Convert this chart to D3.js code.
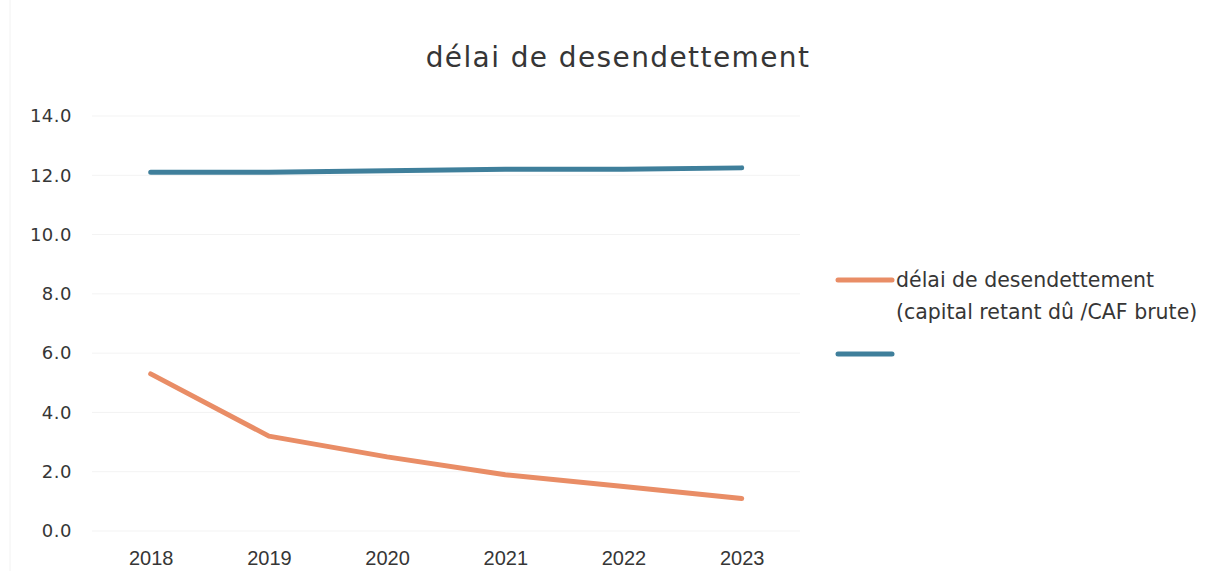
<!DOCTYPE html>
<html>
<head>
<meta charset="utf-8">
<script src="https://cdn.jsdelivr.net/npm/d3@7"></script>
<style>
  html, body { margin: 0; padding: 0; background: #fff; }
  svg { display: block; }
</style>
</head>
<body>
<svg id="chart" width="1220" height="571"></svg>
<script>
// Debt payback period (years) by fiscal year
const years = ["2018", "2019", "2020", "2021", "2022", "2023"];
const delaiValues = [5.3, 3.2, 2.5, 1.9, 1.5, 1.1];
const seuilValues = [12.1, 12.1, 12.15, 12.2, 12.2, 12.25];
const yTicks = [0, 2, 4, 6, 8, 10, 12, 14];
const titleText = "délai de desendettement";
const legendLines = ["délai de desendettement", "(capital retant dû /CAF brute)"];

const svg = d3.select("#chart");
const textColor = "#363636";
const orange = "#E98D66";
const blue = "#3F7F9B";

const plotTop = 116;
const plotBottom = 531;

const x = d3.scalePoint()
  .domain(years)
  .range([150.7, 741.7]);

const y = d3.scaleLinear()
  .domain([0, 14])
  .range([plotBottom, plotTop]);

// faint frame edge on the left
svg.append("line")
  .attr("x1", 10).attr("x2", 10).attr("y1", 0).attr("y2", 571)
  .attr("stroke", "#f2f2f2").attr("stroke-width", 1);

// horizontal gridlines
svg.append("g")
  .selectAll("line")
  .data(yTicks)
  .join("line")
  .attr("x1", 92).attr("x2", 800)
  .attr("y1", d => y(d)).attr("y2", d => y(d))
  .attr("stroke", "#f3f3f3")
  .attr("stroke-width", 1);

// y axis labels
const yAxis = d3.axisLeft(y)
  .tickValues(yTicks)
  .tickFormat(d3.format(".1f"))
  .tickSize(0)
  .tickPadding(0);
const gy = svg.append("g")
  .attr("transform", "translate(72,0)")
  .call(yAxis);
gy.select(".domain").remove();
gy.selectAll("text")
  .attr("fill", textColor)
  .attr("font-family", "DejaVu Sans, sans-serif")
  .attr("font-size", 18)
  .attr("letter-spacing", "0.5px");

// x axis labels
const xAxis = d3.axisBottom(x).tickSize(0).tickPadding(0);
const gx = svg.append("g")
  .attr("transform", "translate(0,551)")
  .call(xAxis);
gx.select(".domain").remove();
gx.selectAll("text")
  .attr("fill", textColor)
  .attr("font-family", "Liberation Sans, Arial, sans-serif")
  .attr("font-size", 20)
  .attr("dy", "0.71em");

// series lines
const line = d3.line()
  .x((d, i) => x(years[i]))
  .y(d => y(d));

svg.append("path")
  .datum(seuilValues)
  .attr("d", line)
  .attr("fill", "none")
  .attr("stroke", blue)
  .attr("stroke-width", 5)
  .attr("stroke-linecap", "round")
  .attr("stroke-linejoin", "round");

svg.append("path")
  .datum(delaiValues)
  .attr("d", line)
  .attr("fill", "none")
  .attr("stroke", orange)
  .attr("stroke-width", 5)
  .attr("stroke-linecap", "round")
  .attr("stroke-linejoin", "round");

// title
svg.append("text")
  .attr("x", 618)
  .attr("y", 67)
  .attr("text-anchor", "middle")
  .attr("fill", textColor)
  .attr("font-family", "DejaVu Sans, sans-serif")
  .attr("font-size", 28)
  .attr("letter-spacing", "1.4px")
  .text(titleText);

// legend
const legend = svg.append("g");
legend.append("line")
  .attr("x1", 838).attr("x2", 892)
  .attr("y1", 280).attr("y2", 280)
  .attr("stroke", orange).attr("stroke-width", 5)
  .attr("stroke-linecap", "round");
legend.append("text")
  .attr("fill", textColor)
  .attr("font-family", "DejaVu Sans, sans-serif")
  .attr("font-size", 20.5)
  .selectAll("tspan")
  .data(legendLines)
  .join("tspan")
  .attr("x", 896)
  .attr("y", (d, i) => 287 + i * 32)
  .text(d => d);
legend.append("line")
  .attr("x1", 838).attr("x2", 892)
  .attr("y1", 354).attr("y2", 354)
  .attr("stroke", blue).attr("stroke-width", 5)
  .attr("stroke-linecap", "round");
</script>
</body>
</html>
